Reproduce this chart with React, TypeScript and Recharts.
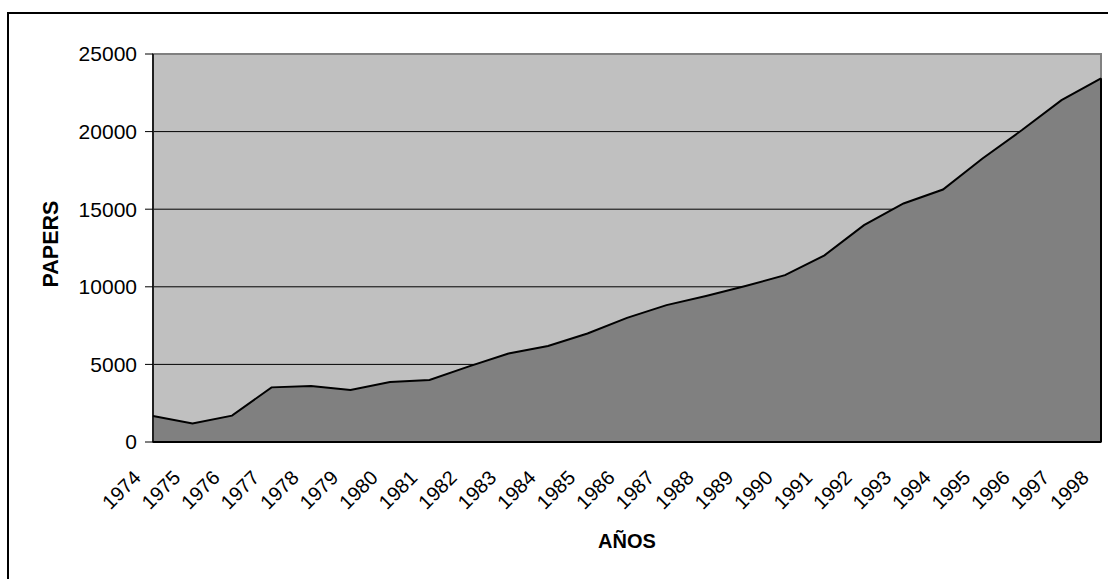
import React from 'react';
import {
  AreaChart,
  Area,
  XAxis,
  YAxis,
  CartesianGrid,
  ReferenceArea,
  ReferenceLine,
} from 'recharts';

const years = [
  '1974', '1975', '1976', '1977', '1978', '1979', '1980', '1981', '1982',
  '1983', '1984', '1985', '1986', '1987', '1988', '1989', '1990', '1991',
  '1992', '1993', '1994', '1995', '1996', '1997', '1998',
];

const papers = [
  1680, 1190, 1700, 3520, 3610, 3350, 3870, 4000, 4870,
  5700, 6190, 6990, 8000, 8820, 9410, 10050, 10750, 12030,
  13970, 15370, 16270, 18270, 20100, 22030, 23430,
];

const yTicks = [0, 5000, 10000, 15000, 20000, 25000];

const FONT = '"Liberation Sans", Arial, sans-serif';

const data = years.map((year, i) => ({ year, papers: papers[i] }));

const YearTick = ({ x, y, payload }: any) => {
  const tx = x - 11;
  const ty = y + 37;
  return (
    <text
      x={tx}
      y={ty}
      textAnchor="end"
      transform={`rotate(-45, ${tx}, ${ty})`}
      fill="#000"
      fontSize={20}
      fontFamily={FONT}
    >
      {payload.value}
    </text>
  );
};

export default function App() {
  return (
    <div
      style={{
        position: 'fixed',
        left: 0,
        top: 0,
        width: 1108,
        height: 579,
        overflow: 'hidden',
        background: '#fff',
      }}
    >
      <div
        style={{
          position: 'absolute',
          left: 7,
          top: 12,
          width: 1120,
          height: 600,
          borderTop: '2px solid #000',
          borderLeft: '2px solid #000',
        }}
      />
      <div style={{ position: 'absolute', left: 0, top: 0 }}>
        <AreaChart
          width={1108}
          height={579}
          data={data}
          margin={{ top: 54, right: 7, left: 93, bottom: 37 }}
        >
          <CartesianGrid
            vertical={false}
            stroke="#000"
            strokeWidth={1}
            fill="#C0C0C0"
            fillOpacity={1}
          />
          <ReferenceArea
            x1="1974"
            x2="1998"
            y1={0}
            y2={25000}
            fill="none"
            stroke="#808080"
            strokeWidth={2}
            ifOverflow="visible"
          />
          <XAxis
            dataKey="year"
            height={100}
            tickLine={false}
            tickSize={0}
            tickMargin={0}
            interval={0}
            axisLine={{ stroke: '#000', strokeWidth: 2 }}
            tick={<YearTick />}
            label={{
              content: ({ viewBox }: any) => (
                <text
                  x={viewBox.x + viewBox.width / 2}
                  y={viewBox.y + 106}
                  textAnchor="middle"
                  fontSize={20}
                  fontWeight="bold"
                  fontFamily={FONT}
                  fill="#000"
                >
                  AÑOS
                </text>
              ),
            }}
          />
          <YAxis
            width={60}
            domain={[0, 25000]}
            ticks={yTicks}
            interval={0}
            tickSize={8}
            tickMargin={8}
            tickLine={{ stroke: '#000' }}
            axisLine={{ stroke: '#000', strokeWidth: 1.5 }}
            tick={{ fill: '#000', fontSize: 21, fontFamily: FONT }}
            label={{
              content: ({ viewBox }: any) => {
                const lx = 51;
                const ly = viewBox.y + viewBox.height / 2 - 4;
                return (
                  <text
                    x={lx}
                    y={ly}
                    textAnchor="middle"
                    dominantBaseline="central"
                    transform={`rotate(-90, ${lx}, ${ly})`}
                    fontSize={21.5}
                    fontWeight="bold"
                    fontFamily={FONT}
                    fill="#000"
                  >
                    PAPERS
                  </text>
                );
              },
            }}
          />
          <Area
            type="linear"
            dataKey="papers"
            fill="#808080"
            fillOpacity={1}
            stroke="#000"
            strokeWidth={2}
            dot={false}
            activeDot={false}
            isAnimationActive={false}
          />
          <ReferenceLine
            segment={[
              { x: years[years.length - 1], y: 0 },
              { x: years[years.length - 1], y: papers[papers.length - 1] },
            ]}
            stroke="#000"
            strokeWidth={2}
          />
        </AreaChart>
      </div>
    </div>
  );
}
